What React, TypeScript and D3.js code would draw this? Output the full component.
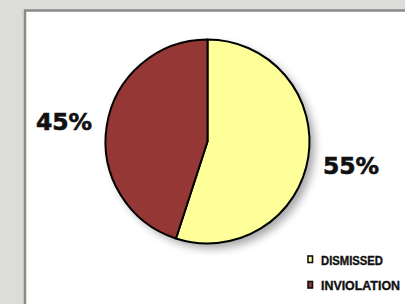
import React from "react";
import * as d3 from "d3";

const categories = ["DISMISSED", "INVIOLATION"];
const values = [55, 45];
const labels = ["55%", "45%"];
const colors = ["#ffff99", "#953735"];

export default function App() {
  const W = 405, H = 304;
  const cx = 207.5, cy = 141.5, r = 102;
  const pie = d3.pie<number>().sort(null).value((d) => d)(values);
  const arc = d3.arc<d3.PieArcDatum<number>>().innerRadius(0).outerRadius(r);
  const labelPos = [
    { x: 351, y: 174 },
    { x: 64, y: 129.5 },
  ];
  return (
    <svg width={W} height={H} style={{ position: "absolute", left: 0, top: 0 }}>
      <defs>
        <filter id="sh" x="-20%" y="-20%" width="150%" height="150%">
          <feDropShadow dx="5" dy="5" stdDeviation="4" floodColor="#000" floodOpacity="0.35" />
        </filter>
      </defs>
      <rect x={0} y={0} width={W} height={H} fill="#dcdcd8" />
      <rect x={24} y={10} width={W} height={H} fill="#ffffff" />
      <line x1={25} y1={10} x2={25} y2={H} stroke="#8a8a8a" strokeWidth={2.5} />
      <line x1={24} y1={10.5} x2={W} y2={10.5} stroke="#8a8a8a" strokeWidth={2.5} />
      <line x1={23} y1={9} x2={23} y2={H} stroke="#c8c8c4" strokeWidth={1} />
      <g transform={`translate(${cx},${cy})`}>
        <circle r={r} fill="#fff" filter="url(#sh)" />
        {pie.map((p, i) => (
          <path key={i} d={arc(p) || ""} fill={colors[i]} stroke="#000" strokeWidth={2} strokeLinejoin="round" />
        ))}
      </g>
      {labels.map((t, i) => (
        <text key={i} x={labelPos[i].x} y={labelPos[i].y} textAnchor="middle"
          fontFamily="DejaVu Sans" fontWeight="bold" fontSize={23.5} fill="#111"
          stroke="#111" strokeWidth={0.6}>{t}</text>
      ))}
      {categories.map((c, i) => (
        <g key={c} transform={`translate(0, ${i * 25.5})`}>
          <rect x={308} y={256} width={4.5} height={6.5} fill={colors[i]} stroke="#111" strokeWidth={1.6} />
          <text x={321} y={264.5} fontFamily="Liberation Sans" fontWeight="bold" fontSize={12} fill="#111"
            stroke="#111" strokeWidth={0.35}
            textLength={i === 0 ? 62 : 79} lengthAdjust="spacingAndGlyphs">{c}</text>
        </g>
      ))}
    </svg>
  );
}
